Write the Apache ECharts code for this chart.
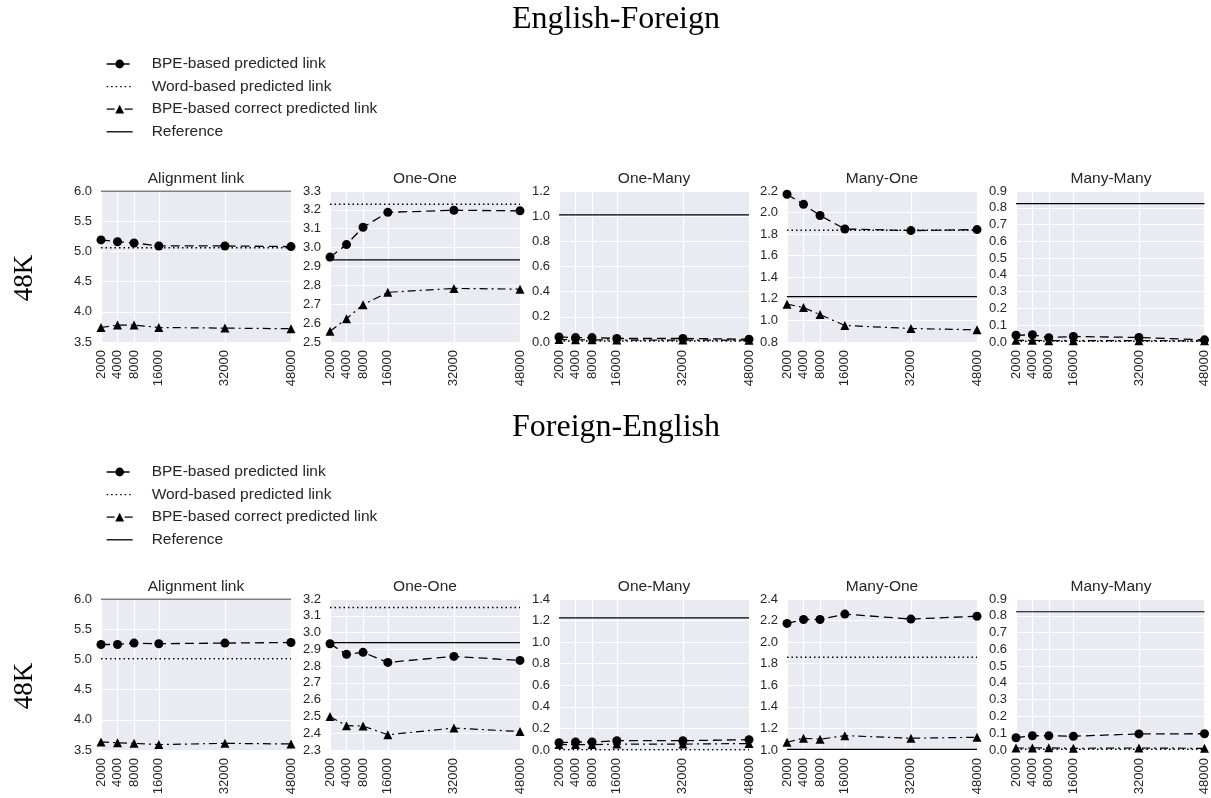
<!DOCTYPE html>
<html><head><meta charset="utf-8">
<script src="https://cdn.jsdelivr.net/npm/echarts@6/dist/echarts.min.js"></script>
<style>html,body{margin:0;padding:0;background:#fff}#c{width:1211px;height:798px}</style>
</head><body><div id="c"></div>
<script>
// ---- data ----
const panelTitles = ['Alignment link', 'One-One', 'One-Many', 'Many-One', 'Many-Many'];
const blockTitles = ['English-Foreign', 'Foreign-English'];
const rowLabel = '48K';
const seriesNames = ['BPE-based predicted link', 'Word-based predicted link', 'BPE-based correct predicted link', 'Reference'];
// vocabulary sizes (tick labels) and the x positions at which they are plotted
const xTickLabels = ['2000', '4000', '8000', '16000', '32000', '48000'];
const xPos = [2000, 6000, 10000, 16000, 32000, 48000];

// English-Foreign
const predEF = [
  [5.19, 5.16, 5.14, 5.09, 5.09, 5.08],
  [2.95, 3.016, 3.108, 3.187, 3.198, 3.195],
  [0.04, 0.035, 0.035, 0.028, 0.028, 0.022],
  [2.17, 2.076, 1.973, 1.848, 1.833, 1.842],
  [0.04, 0.043, 0.026, 0.033, 0.027, 0.013]
];
const correctEF = [
  [3.74, 3.78, 3.78, 3.74, 3.73, 3.72],
  [2.557, 2.623, 2.698, 2.763, 2.784, 2.78],
  [0.02, 0.018, 0.018, 0.015, 0.015, 0.014],
  [1.151, 1.12, 1.054, 0.953, 0.925, 0.913],
  [0.01, 0.01, 0.008, 0.008, 0.008, 0.007]
];
const wordEF = [5.06, 3.23, 0.008, 1.835, 0.004];
const refEF = [6.0, 2.935, 1.01, 1.22, 0.825];
const yRangeEF = [[3.5, 6.0, 0.5], [2.5, 3.3, 0.1], [0, 1.2, 0.2], [0.8, 2.2, 0.2], [0, 0.9, 0.1]];

// Foreign-English
const predFE = [
  [5.247, 5.247, 5.27, 5.26, 5.27, 5.28],
  [2.933, 2.87, 2.882, 2.822, 2.858, 2.834],
  [0.068, 0.074, 0.074, 0.086, 0.086, 0.096],
  [2.174, 2.21, 2.21, 2.26, 2.214, 2.24],
  [0.073, 0.085, 0.085, 0.082, 0.096, 0.097]
];
const correctFE = [
  [3.634, 3.62, 3.61, 3.59, 3.61, 3.60],
  [2.499, 2.445, 2.443, 2.391, 2.431, 2.41],
  [0.05, 0.05, 0.05, 0.055, 0.055, 0.06],
  [1.072, 1.109, 1.1, 1.133, 1.109, 1.118],
  [0.012, 0.012, 0.013, 0.01, 0.012, 0.01]
];
const wordFE = [5.01, 3.15, 0.003, 1.861, 0.004];
const refFE = [6.0, 2.94, 1.225, 1.006, 0.824];
const yRangeFE = [[3.5, 6.0, 0.5], [2.3, 3.2, 0.1], [0, 1.4, 0.2], [1.0, 2.4, 0.2], [0, 0.9, 0.1]];

// ---- layout / style ----
const SANS = '"Liberation Sans", Arial, sans-serif';
const SERIF = '"Liberation Serif", "DejaVu Serif", serif';
const TXT = '#262626';
const gridLefts = [101, 330, 559, 787, 1016];
const gridW = 190, gridH = 151;
const rowTops = [191, 599];
const rowShift = 408;

const blocks = [
  { pred: predEF, correct: correctEF, word: wordEF, ref: refEF, yr: yRangeEF },
  { pred: predFE, correct: correctFE, word: wordFE, ref: refFE, yr: yRangeFE }
];

const grid = [], xAxis = [], yAxis = [], series = [], graphic = [], legend = [];

blocks.forEach((b, r) => {
  graphic.push({ type: 'text', x: 616, y: 20 + r * rowShift,
    style: { text: blockTitles[r], font: '32px ' + SERIF, fill: '#000', align: 'center', verticalAlign: 'middle' } });
  graphic.push({ type: 'text', x: 25, y: 278 + r * rowShift, rotation: Math.PI / 2,
    style: { text: rowLabel, font: '27px ' + SERIF, fill: '#000', align: 'center', verticalAlign: 'middle' } });
  legend.push({
    orient: 'vertical', left: 106, top: 56 + r * rowShift, padding: 0,
    itemWidth: 26, itemHeight: 11, itemGap: 6.6,
    textStyle: { fontFamily: SANS, fontSize: 15.5, color: TXT, padding: [0, 0, 0, 14] },
    lineStyle: { width: 1.3 },
    data: [
      { name: seriesNames[0] },
      { name: seriesNames[1], itemStyle: { opacity: 0 } },
      { name: seriesNames[2] },
      { name: seriesNames[3], itemStyle: { opacity: 0 } }
    ]
  });
  for (let p = 0; p < 5; p++) {
    const gi = r * 5 + p;
    const left = gridLefts[p], top = rowTops[r];
    grid.push({ left: left, top: top, width: gridW, height: gridH, show: true,
      backgroundColor: '#EAEAF2', borderWidth: 0 });
    graphic.push({ type: 'text', x: left + gridW / 2, y: top - 12,
      style: { text: panelTitles[p], font: '15.5px ' + SANS, fill: TXT, align: 'center', verticalAlign: 'middle' } });
    xAxis.push({ gridIndex: gi, type: 'value', min: xPos[0], max: xPos[xPos.length - 1],
      axisLine: { show: false },
      axisTick: { show: false, customValues: xPos },
      axisLabel: { customValues: xPos, rotate: 90, margin: 8, fontSize: 13, fontFamily: SANS, color: TXT,
        formatter: v => xTickLabels[xPos.indexOf(v)] },
      splitLine: { show: true, lineStyle: { color: '#fff', width: 1.2 } } });
    const yr = b.yr[p];
    yAxis.push({ gridIndex: gi, type: 'value', min: yr[0], max: yr[1], interval: yr[2],
      axisLine: { show: false }, axisTick: { show: false },
      axisLabel: { margin: 9, fontSize: 13, fontFamily: SANS, color: TXT, formatter: v => v.toFixed(1) },
      splitLine: { show: true, lineStyle: { color: '#fff', width: 1.2 } } });
    const xEnds = [xPos[0], xPos[xPos.length - 1]];
    const common = { type: 'line', xAxisIndex: gi, yAxisIndex: gi, animation: false, silent: true,
      emphasis: { disabled: true } };
    series.push(Object.assign({}, common, { name: seriesNames[1], symbol: 'none',
      data: xEnds.map(x => [x, b.word[p]]),
      itemStyle: { color: '#000' }, lineStyle: { color: '#000', width: 1.5, type: [1.5, 3] } }));
    series.push(Object.assign({}, common, { name: seriesNames[3], symbol: 'none',
      data: xEnds.map(x => [x, b.ref[p]]),
      itemStyle: { color: '#000' }, lineStyle: { color: '#000', width: 1.2, type: 'solid' } }));
    series.push(Object.assign({}, common, { name: seriesNames[2], symbol: 'triangle', symbolSize: 9,
      showAllSymbol: true,
      data: xPos.map((x, i) => [x, b.correct[p][i]]),
      itemStyle: { color: '#000' }, lineStyle: { color: '#000', width: 1.2, type: [8, 4, 2, 4] } }));
    series.push(Object.assign({}, common, { name: seriesNames[0], symbol: 'circle', symbolSize: 9,
      showAllSymbol: true,
      data: xPos.map((x, i) => [x, b.pred[p][i]]),
      itemStyle: { color: '#000' }, lineStyle: { color: '#000', width: 1.3, type: [9, 5] } }));
  }
});

const chart = echarts.init(document.getElementById('c'), null, { renderer: 'canvas' });
chart.setOption({ animation: false, backgroundColor: '#fff', grid, xAxis, yAxis, series, legend, graphic });
</script>
</body></html>
